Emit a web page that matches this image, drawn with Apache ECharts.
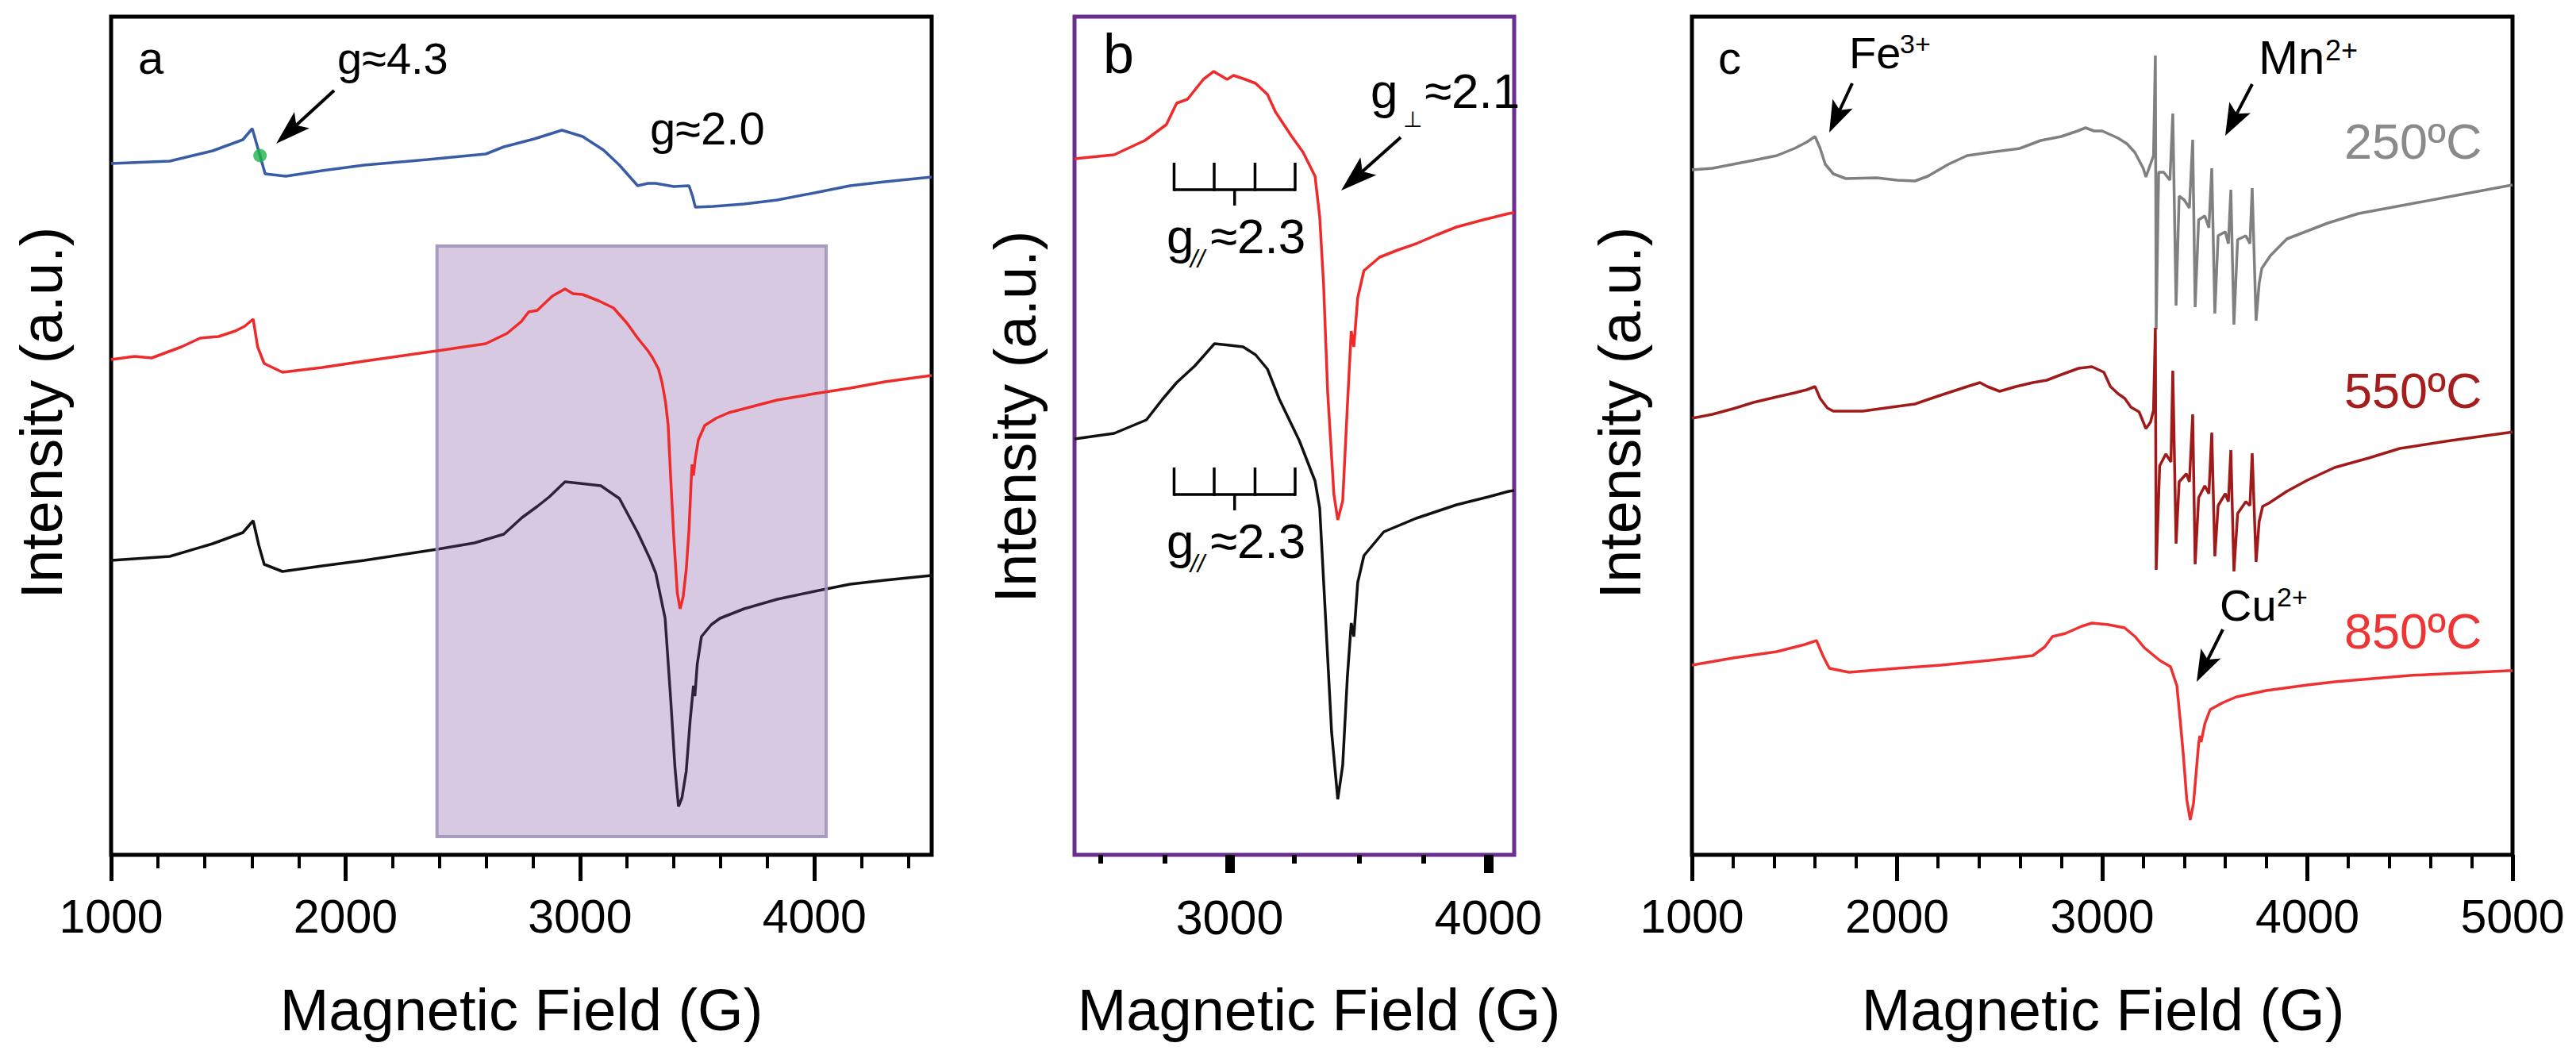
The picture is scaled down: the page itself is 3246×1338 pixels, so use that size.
<!DOCTYPE html>
<html><head><meta charset="utf-8">
<script src="https://cdn.jsdelivr.net/npm/echarts@6/dist/echarts.min.js"></script>
<style>html,body{margin:0;padding:0;background:#fff}#main{width:3246px;height:1338px}</style>
</head><body><div id="main"></div>
<script>
// ---------------- DATA (field in G, intensity in a.u.) ----------------
// Panel a
const aBlue = [[1000,871],[1250,874],[1433,887],[1562,901],[1602,915],[1635,881],[1657,858],[1745,855],[1900,862],[2080,869],[2350,876],[2598,883],[2675,892],[2805,902],[2923,913],[3011,905],[3100,888],[3168,869],[3210,855],[3246,843],[3290,846],[3323,846],[3400,842],[3465,843],[3480,830],[3492,816],[3569,817],[3700,820],[3841,825],[4000,834],[4152,843],[4300,848],[4500,854]];
const aRed = [[1000,624],[1100,628],[1173,626],[1300,640],[1380,651],[1458,653],[1530,660],[1570,666],[1606,675],[1625,640],[1653,619],[1731,608],[1900,614],[2080,622],[2391,635],[2598,644],[2689,657],[2750,672],[2781,684],[2818,686],[2850,695],[2882,704],[2936,713],[2970,707],[3011,706],[3080,698],[3143,689],[3200,670],[3246,651],[3290,635],[3310,626],[3335,612],[3350,595],[3365,570],[3376,541],[3387,474],[3400,400],[3415,330],[3427,310],[3440,325],[3453,359],[3465,410],[3474,470],[3478,492],[3484,478],[3492,500],[3505,523],[3532,541],[3580,550],[3634,557],[3750,566],[3841,573],[4000,581],[4152,588],[4300,596],[4500,604]];
const aBlack = [[1000,371],[1250,376],[1433,392],[1562,406],[1606,421],[1630,390],[1653,366],[1731,357],[1900,364],[2080,371],[2391,385],[2550,393],[2675,404],[2753,425],[2818,439],[2869,451],[2936,470],[3000,468],[3089,465],[3168,449],[3246,406],[3300,372],[3323,355],[3363,298],[3387,195],[3405,110],[3420,61],[3435,72],[3453,105],[3470,170],[3484,213],[3490,200],[3500,240],[3518,275],[3560,290],[3597,298],[3700,310],[3841,322],[4000,332],[4152,341],[4300,346],[4500,352]];
const aMarker = [[1635,881]];
const highlightField = [2390, 4050];   // shaded region (G)
const highlightLevel = [23, 767];      // shaded region (a.u.)

// Panel b
const bRed = [[2400,877],[2553,882],[2672,900],[2755,920],[2795,947],[2837,952],[2898,977],[2938,987],[2990,977],[3015,982],[3060,977],[3100,972],[3146,958],[3177,936],[3238,906],[3284,885],[3330,855],[3348,804],[3363,719],[3379,582],[3403,454],[3418,422],[3437,446],[3455,565],[3470,660],[3480,640],[3495,702],[3519,736],[3580,753],[3650,762],[3721,770],[3800,781],[3877,791],[3980,800],[4079,808],[4100,809]];
const bBlack = [[2400,524],[2553,531],[2678,548],[2740,574],[2795,595],[2865,616],[2941,644],[3000,642],[3052,640],[3100,630],[3146,612],[3192,574],[3269,522],[3330,471],[3348,437],[3369,309],[3394,155],[3418,70],[3437,113],[3455,224],[3470,292],[3480,275],[3495,343],[3519,377],[3596,407],[3721,424],[3877,441],[4000,451],[4079,458],[4100,459]];
const bracketTicks = [2785, 2940, 3098, 3253];
const bracketCenter = 3019;
const bracketLevels = [838, 454];

// Panel c
const c250 = [[1000,863],[1100,865],[1200,870],[1300,875],[1414,881],[1500,890],[1560,898],[1600,905],[1625,890],[1650,870],[1689,858],[1750,852],[1900,853],[2000,850],[2087,849],[2150,855],[2250,870],[2342,881],[2450,885],[2598,890],[2700,900],[2800,905],[2880,912],[2919,916],[2960,912],[3000,912],[3077,903],[3120,896],[3159,885],[3200,865],[3213,854],[3235,870],[3250,881],[3259,1007],[3263,662],[3275,860],[3300,860],[3330,850],[3344,934],[3360,692],[3375,830],[3400,825],[3425,815],[3441,901],[3453,690],[3470,800],[3500,805],[3520,790],[3534,865],[3549,682],[3565,780],[3600,785],[3615,770],[3627,838],[3642,668],[3660,775],[3700,780],[3720,770],[3731,840],[3750,673],[3765,720],[3778,739],[3820,755],[3900,776],[4000,786],[4100,796],[4250,808],[4500,820],[4750,832],[5000,844]];
const c550 = [[1000,550],[1100,555],[1200,562],[1300,570],[1414,577],[1500,582],[1560,586],[1600,590],[1625,575],[1660,563],[1689,559],[1832,559],[2000,565],[2087,568],[2200,578],[2342,590],[2404,595],[2440,590],[2500,584],[2580,590],[2662,595],[2730,598],[2790,604],[2885,613],[2950,615],[3008,608],[3040,590],[3077,581],[3110,575],[3140,564],[3180,558],[3213,537],[3235,545],[3250,560],[3259,664],[3263,359],[3280,490],[3310,505],[3335,495],[3344,610],[3360,392],[3375,470],[3410,480],[3425,470],[3441,555],[3453,366],[3470,450],[3500,465],[3520,455],[3534,532],[3549,376],[3565,440],[3600,455],[3615,445],[3627,510],[3642,357],[3660,430],[3700,445],[3720,440],[3731,506],[3750,369],[3765,420],[3782,439],[3812,443],[3900,458],[4000,472],[4133,488],[4300,500],[4451,512],[4700,522],[4980,532],[5000,533]];
const c850 = [[1000,239],[1200,248],[1414,256],[1550,265],[1607,270],[1640,250],[1670,235],[1766,230],[2000,235],[2214,239],[2450,245],[2662,251],[2720,262],[2757,275],[2821,279],[2900,288],[2950,292],[3030,290],[3109,286],[3160,275],[3205,261],[3280,245],[3333,237],[3364,213],[3380,170],[3396,124],[3412,70],[3429,44],[3445,65],[3460,110],[3470,140],[3476,150],[3482,142],[3500,165],[3526,183],[3590,192],[3654,199],[3800,207],[4000,214],[4133,218],[4500,226],[4980,232],[5000,232]];

// Tick values
const aMajor = [1000, 2000, 3000, 4000];
const aMinor = [1200,1400,1600,1800,2200,2400,2600,2800,3200,3400,3600,3800,4200,4400];
const bMajor = [3000, 4000];
const bMinor = [2500, 2750, 3250, 3500, 3750];
const cMajor = [1000, 2000, 3000, 4000, 5000];
const cMinor = [1200,1400,1600,1800,2200,2400,2600,2800,3200,3400,3600,3800,4200,4400,4600,4800];

// ---------------- CHART ----------------
const FF = "'Liberation Sans', Arial, Helvetica, sans-serif";
const chart = echarts.init(document.getElementById('main'), null, {renderer: 'svg'});

const grids = [
  {left: 140, top: 21, width: 1034, height: 1056, show: true, borderWidth: 5, borderColor: '#000', backgroundColor: 'transparent'},
  {left: 1354, top: 21, width: 554, height: 1056, show: true, borderWidth: 5, borderColor: '#6b2e8e', backgroundColor: 'transparent'},
  {left: 2132, top: 21, width: 1034, height: 1056, show: true, borderWidth: 5, borderColor: '#000', backgroundColor: 'transparent'}
];

function xMajor(g, min, max, vals, len, w, fs) {
  return {gridIndex: g, type: 'value', min, max, position: 'bottom',
    axisLine: {show: false}, splitLine: {show: false},
    axisTick: {show: true, inside: false, length: len, customValues: vals, lineStyle: {width: w, color: '#000'}},
    axisLabel: {show: true, margin: 48, fontSize: fs, color: '#000', fontFamily: FF, customValues: vals,
      formatter: v => String(Math.round(v))}};
}
function xMinor(g, min, max, vals, len, w) {
  return {gridIndex: g, type: 'value', min, max, position: 'bottom',
    axisLine: {show: false}, splitLine: {show: false},
    axisTick: {show: true, inside: false, length: len, customValues: vals, lineStyle: {width: w, color: '#000'}},
    axisLabel: {show: false}};
}
const xAxes = [
  xMajor(0, 1000, 4500, aMajor, 33, 5, 59), xMinor(0, 1000, 4500, aMinor, 17, 4),
  xMajor(1, 2400, 4100, bMajor, 23, 12, 61), xMinor(1, 2400, 4100, bMinor, 11, 6),
  xMajor(2, 1000, 5000, cMajor, 33, 5, 59), xMinor(2, 1000, 5000, cMinor, 17, 4)
];
const yAxes = [0,1,2].map(g => ({gridIndex: g, type: 'value', min: 0, max: 1056, show: false}));

function line(name, xi, yi, data, color, z) {
  return {name, type: 'line', xAxisIndex: xi, yAxisIndex: yi, data, showSymbol: false, symbol: 'none',
    lineStyle: {width: 3.5, color}, itemStyle: {color}, z: z || 2, silent: true, animation: false};
}

const series = [
  line('a-black', 0, 0, aBlack, '#111111', 2),
  {type: 'custom', name: 'highlight', xAxisIndex: 0, yAxisIndex: 0, z: 3, silent: true, animation: false,
    data: [[highlightField[0], highlightLevel[0], highlightField[1], highlightLevel[1]]],
    encode: {x: [0, 2], y: [1, 3]},
    renderItem: (params, api) => {
      const p1 = api.coord([api.value(0), api.value(3)]);
      const p2 = api.coord([api.value(2), api.value(1)]);
      return {type: 'rect', shape: {x: p1[0], y: p1[1], width: p2[0] - p1[0], height: p2[1] - p1[1]},
        style: {fill: 'rgba(125,75,158,0.30)', stroke: 'rgba(160,148,185,0.9)', lineWidth: 4}};
    }},
  line('a-red', 0, 0, aRed, '#ee2a2a', 4),
  line('a-blue', 0, 0, aBlue, '#3a5ba6', 4),
  {type: 'scatter', name: 'marker', xAxisIndex: 0, yAxisIndex: 0, data: aMarker, symbolSize: 17,
    itemStyle: {color: '#1fb34a'}, z: 6, silent: true, animation: false},
  line('b-red', 2, 1, bRed, '#ee2a2a', 4),
  line('b-black', 2, 1, bBlack, '#111111', 4),
  {type: 'custom', name: 'brackets', xAxisIndex: 2, yAxisIndex: 1, z: 5, silent: true, animation: false,
    data: bracketLevels.map(v => [bracketCenter, v]), encode: {x: 0, y: 1},
    renderItem: (params, api) => {
      const lvl = api.value(1);
      const y0 = api.coord([bracketCenter, lvl])[1];
      const xs = bracketTicks.map(t => api.coord([t, lvl])[0]);
      const st = {stroke: '#000', lineWidth: 3.5};
      const ch = [{type: 'line', shape: {x1: xs[0], y1: y0, x2: xs[xs.length - 1], y2: y0}, style: st}];
      xs.forEach(x => ch.push({type: 'line', shape: {x1: x, y1: y0 + 1.75, x2: x, y2: y0 - 34}, style: st}));
      const xc = api.coord([bracketCenter, lvl])[0];
      ch.push({type: 'line', shape: {x1: xc, y1: y0, x2: xc, y2: y0 + 20}, style: st});
      return {type: 'group', children: ch};
    }},
  line('250°C', 4, 2, c250, '#808080', 4),
  line('550°C', 4, 2, c550, '#a01a1a', 4),
  line('850°C', 4, 2, c850, '#ee3030', 4)
];

// ---------------- ANNOTATIONS ----------------
function T(text, x, y, size, o) {
  o = o || {};
  return {type: 'text', x, y, rotation: o.rot || 0, z: 100, silent: true,
    style: {text, fontSize: size, fontFamily: FF, fontStyle: o.italic ? 'italic' : 'normal',
      fill: o.color || '#000', align: o.align || 'left', verticalAlign: 'middle',
      textAlign: o.align || 'left', textVerticalAlign: 'middle'}};
}
function arrow(x1, y1, x2, y2, L, W) {
  const dx = x2 - x1, dy = y2 - y1, len = Math.hypot(dx, dy), ux = dx / len, uy = dy / len;
  const bx = x2 - ux * L, by = y2 - uy * L, px = -uy, py = ux;
  const nx = x2 - ux * L * 0.78, ny = y2 - uy * L * 0.78;
  return [
    {type: 'line', z: 100, silent: true, shape: {x1, y1, x2: nx, y2: ny}, style: {stroke: '#000', lineWidth: 4}},
    {type: 'polygon', z: 100, silent: true, shape: {points: [[x2, y2], [bx + px * W / 2, by + py * W / 2], [nx, ny], [bx - px * W / 2, by - py * W / 2]]}, style: {fill: '#000'}}
  ];
}

const graphic = [
  // axis titles
  T('Magnetic Field (G)', 657, 1272, 74, {align: 'center'}),
  T('Magnetic Field (G)', 1662, 1272, 74, {align: 'center'}),
  T('Magnetic Field (G)', 2650, 1272, 74, {align: 'center'}),
  T('Intensity (a.u.)', 52, 520, 74, {align: 'center', rot: Math.PI / 2}),
  T('Intensity (a.u.)', 1279, 525, 74, {align: 'center', rot: Math.PI / 2}),
  T('Intensity (a.u.)', 2041, 520, 74, {align: 'center', rot: Math.PI / 2}),
  // panel a
  T('a', 174, 72, 58),
  T('g≈4.3', 425, 73, 56),
  T('g≈2.0', 819, 161, 58),
  ...arrow(421, 114, 348, 181, 44, 28),
  // panel b
  T('b', 1390, 68, 70),
  T('g', 1727, 114, 62),
  T('⊥', 1780, 150, 28, {align: 'center'}),
  T('≈2.1', 1795, 114, 62),
  ...arrow(1765, 173, 1690, 240, 46, 30),
  T('g', 1470, 297, 62), T('//', 1509, 326, 32, {align: 'center', italic: true}), T('≈2.3', 1525, 297, 62),
  T('g', 1470, 681, 62), T('//', 1509, 710, 32, {align: 'center', italic: true}), T('≈2.3', 1525, 681, 62),
  // panel c
  T('c', 2165, 72, 58),
  T('Fe', 2330, 66, 56), T('3+', 2394, 55, 34),
  ...arrow(2334, 105, 2305, 167, 40, 28),
  T('Mn', 2846, 72, 60), T('2+', 2930, 63, 36),
  ...arrow(2838, 106, 2804, 171, 40, 30),
  T('Cu', 2797, 762, 56), T('2+', 2869, 752, 34),
  ...arrow(2801, 793, 2768, 859, 40, 28),
  T('250ºC', 2954, 178, 63, {color: '#8a8a8a'}),
  T('550ºC', 2954, 492, 63, {color: '#a51d1d'}),
  T('850ºC', 2954, 795, 63, {color: '#ee3535'})
];

chart.setOption({
  animation: false,
  backgroundColor: '#fff',
  grid: grids,
  xAxis: xAxes,
  yAxis: yAxes,
  series,
  graphic
});
</script>
</body></html>
